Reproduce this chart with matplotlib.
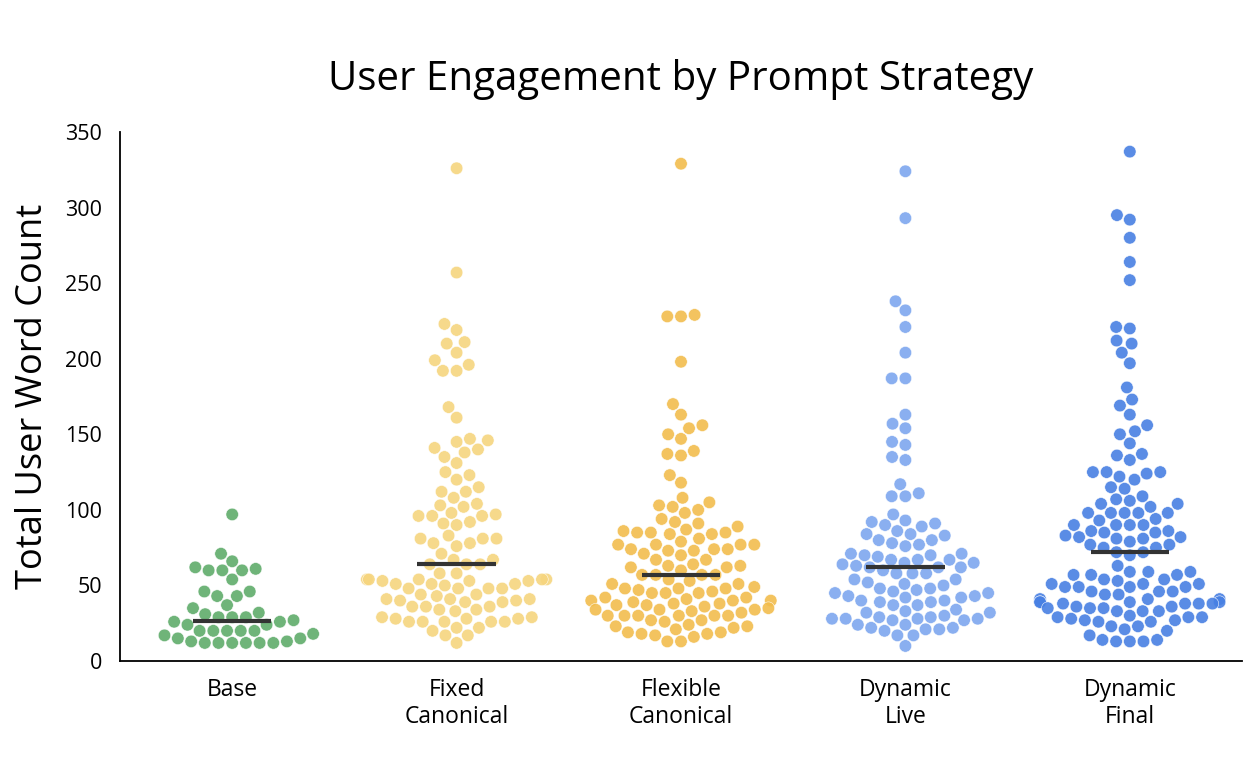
import numpy as np
import pandas as pd
import matplotlib
matplotlib.use("Agg")
import matplotlib.pyplot as plt
import seaborn as sns

strategies = ["Base", "Fixed\nCanonical", "Flexible\nCanonical", "Dynamic\nLive", "Dynamic\nFinal"]
colors = ["#5FAC6B", "#F6D57E", "#F2BD4D", "#7DA7EF", "#4880E3"]

base = [97, 71, 66, 62, 60, 60, 60, 61, 54, 46, 46, 43, 43, 37, 35, 31, 32,
        29, 29, 29, 27, 26, 26, 24, 24, 20, 20, 20, 20, 20, 18, 17, 15, 15,
        13, 13, 12, 12, 12, 12, 12, 12]

fixed_canonical = [326, 257, 223, 219, 211, 210, 204, 199, 196, 192, 192, 168,
                   161, 145, 147, 146, 141, 138, 140, 135, 131, 125, 123, 120,
                   115, 112, 112, 108, 103, 104, 102, 98, 96, 96, 97, 96, 92,
                   91, 90, 83, 81, 81, 81, 78, 78, 76, 71, 67, 67, 64, 64, 64,
                   58, 58, 54, 54, 54, 54, 53, 54, 53, 53, 51, 51, 51, 50, 48,
                   48, 48, 48, 44, 44, 43, 41, 41, 41, 40, 40, 39, 39, 36, 36,
                   36, 34, 34, 33, 29, 29, 28, 28, 28, 26, 26, 26, 26, 26, 22,
                   22, 20, 17, 17, 12]

flexible_canonical = [329, 228, 228, 229, 198, 170, 163, 154, 156, 150, 147,
                      139, 137, 136, 123, 118, 108, 105, 103, 102, 100, 98, 94,
                      92, 91, 89, 87, 86, 85, 85, 85, 84, 84, 81, 79, 77, 77,
                      77, 77, 74, 74, 74, 73, 73, 71, 70, 67, 67, 64, 63, 63,
                      62, 62, 60, 57, 57, 57, 57, 54, 53, 51, 51, 49, 48, 48,
                      48, 47, 46, 45, 45, 45, 42, 42, 41, 40, 40, 40, 39, 38,
                      38, 37, 37, 36, 35, 34, 34, 34, 33, 32, 30, 30, 30, 30,
                      30, 30, 27, 27, 26, 24, 23, 23, 22, 21, 19, 19, 18, 18,
                      17, 16, 13, 13]

dynamic_live = [324, 293, 238, 232, 221, 204, 187, 187, 163, 157, 154, 145,
                143, 135, 133, 117, 109, 109, 111, 97, 93, 92, 90, 91, 89, 86,
                84, 84, 83, 80, 80, 78, 77, 76, 71, 71, 70, 70, 69, 67, 67, 67,
                65, 65, 64, 63, 62, 62, 62, 60, 58, 58, 58, 54, 54, 52, 51, 50,
                48, 48, 47, 46, 45, 45, 43, 43, 42, 42, 40, 40, 39, 39, 37, 37,
                34, 33, 32, 32, 30, 29, 29, 28, 28, 28, 28, 27, 27, 24, 24, 22,
                22, 21, 21, 20, 17, 17, 10]

dynamic_final = [337, 295, 292, 280, 264, 252, 221, 220, 212, 210, 204, 197,
                 181, 173, 169, 163, 156, 152, 150, 144, 137, 136, 133, 125,
                 125, 125, 124, 122, 120, 115, 114, 109, 107, 106, 104, 104,
                 102, 98, 98, 98, 98, 98, 94, 93, 90, 90, 90, 90, 86, 86, 85,
                 85, 82, 82, 81, 81, 83, 79, 77, 77, 75, 75, 72, 72, 70, 63,
                 59, 59, 59, 57, 57, 57, 54, 54, 53, 51, 51, 51, 49, 49, 49,
                 49, 46, 46, 46, 44, 44, 41, 41, 41, 39, 39, 39, 39, 38, 38,
                 38, 38, 36, 36, 35, 35, 35, 33, 33, 33, 30, 29, 29, 29, 28,
                 27, 27, 26, 26, 23, 23, 21, 20, 17, 14, 14, 13, 13, 13]

groups = [base, fixed_canonical, flexible_canonical, dynamic_live, dynamic_final]

df = pd.DataFrame({
    "strategy": np.concatenate([[s] * len(g) for s, g in zip(strategies, groups)]),
    "words": np.concatenate(groups),
})

plt.rcParams["font.family"] = ["Open Sans", "DejaVu Sans"]

fig = plt.figure(figsize=(12.5, 7.66), dpi=100)
ax = fig.add_axes([0.096, 0.137, 0.8976, 0.6907])

sns.swarmplot(data=df, x="strategy", y="words", hue="strategy", order=strategies,
              hue_order=strategies, palette=colors, size=9, alpha=0.9,
              edgecolor="white", linewidth=0.4, legend=False, ax=ax)

# median bars
for i, g in enumerate(groups):
    ax.hlines(np.median(g), i - 0.175, i + 0.175, color="#333333", lw=3, zorder=5)

ax.set_xlim(-0.5, 4.5)
ax.set_ylim(0, 350)
ax.set_yticks(range(0, 351, 50))
ax.tick_params(axis="both", length=0, colors="black")
ax.tick_params(axis="x", pad=12, labelsize=16.5)
ax.tick_params(axis="y", pad=13, labelsize=15.5)
ax.set_xlabel("")
ax.set_ylabel("Total User Word Count", fontsize=26, labelpad=10)
ax.set_title("User Engagement by Prompt Strategy", fontsize=29, pad=30)

for side in ["top", "right"]:
    ax.spines[side].set_visible(False)
for side in ["left", "bottom"]:
    ax.spines[side].set_linewidth(1.3)
    ax.spines[side].set_color("black")

fig.savefig("out.png", dpi=100)
